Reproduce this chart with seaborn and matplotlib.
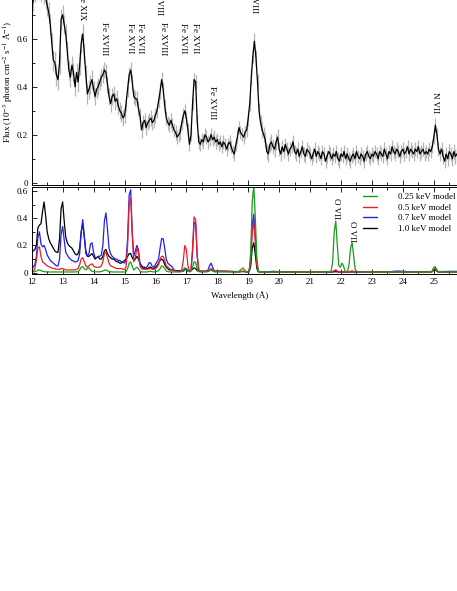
import numpy as np
import pandas as pd
import matplotlib
matplotlib.use("Agg")
import matplotlib.pyplot as plt
import seaborn as sns
from matplotlib.ticker import MultipleLocator, FuncFormatter
from matplotlib.lines import Line2D

# Observed spectrum, 0.05 A bins starting at 12.00 A (flux in 1e-3 photon cm-2 s-1 A-1)
spec_flux = [
    0.73, 0.76, 0.80, 0.82, 0.81, 0.83, 0.80, 0.81, 0.79, 0.77,
    0.74, 0.71, 0.66, 0.58, 0.51, 0.50, 0.45, 0.43, 0.50, 0.68,
    0.70, 0.66, 0.62, 0.55, 0.47, 0.44, 0.49, 0.46, 0.40, 0.46,
    0.42, 0.49, 0.58, 0.62, 0.54, 0.45, 0.37, 0.39, 0.41, 0.43,
    0.39, 0.36, 0.39, 0.40, 0.42, 0.44, 0.45, 0.47, 0.46, 0.41,
    0.36, 0.33, 0.36, 0.37, 0.34, 0.35, 0.32, 0.30, 0.29, 0.27,
    0.28, 0.33, 0.39, 0.45, 0.47, 0.42, 0.36, 0.35, 0.35, 0.31,
    0.28, 0.22, 0.25, 0.26, 0.23, 0.25, 0.26, 0.27, 0.25, 0.26,
    0.28, 0.30, 0.34, 0.38, 0.43, 0.39, 0.32, 0.27, 0.25, 0.24,
    0.26, 0.24, 0.22, 0.21, 0.19, 0.20, 0.21, 0.25, 0.28, 0.30,
    0.27, 0.22, 0.16, 0.20, 0.33, 0.43, 0.42, 0.26, 0.17, 0.16,
    0.18, 0.17, 0.20, 0.19, 0.17, 0.18, 0.20, 0.18, 0.19, 0.17,
    0.18, 0.16, 0.17, 0.15, 0.17, 0.16, 0.14, 0.16, 0.17, 0.15,
    0.13, 0.12, 0.16, 0.19, 0.23, 0.21, 0.20, 0.19, 0.21, 0.22,
    0.27, 0.33, 0.44, 0.53, 0.59, 0.52, 0.42, 0.30, 0.25, 0.22,
    0.20, 0.18, 0.13, 0.12, 0.16, 0.17, 0.15, 0.14, 0.17, 0.19,
    0.14, 0.12, 0.15, 0.13, 0.16, 0.14, 0.12, 0.14, 0.15, 0.17,
    0.13, 0.12, 0.14, 0.11, 0.13, 0.15, 0.12, 0.11, 0.14, 0.13,
    0.12, 0.10, 0.12, 0.14, 0.11, 0.13, 0.12, 0.10, 0.13, 0.12,
    0.09, 0.11, 0.13, 0.12, 0.10, 0.12, 0.11, 0.13, 0.10, 0.09,
    0.12, 0.11, 0.13, 0.10, 0.12, 0.10, 0.09, 0.11, 0.12, 0.10,
    0.13, 0.11, 0.10, 0.12, 0.11, 0.09, 0.12, 0.13, 0.11, 0.10,
    0.12, 0.11, 0.13, 0.12, 0.10, 0.13, 0.12, 0.11, 0.14, 0.12,
    0.10, 0.13, 0.12, 0.15, 0.13, 0.12, 0.14, 0.13, 0.11, 0.13,
    0.14, 0.12, 0.13, 0.15, 0.12, 0.14, 0.13, 0.12, 0.14, 0.13,
    0.15, 0.12, 0.13, 0.14, 0.12, 0.13, 0.12, 0.14, 0.13, 0.15,
    0.19, 0.24, 0.20, 0.14, 0.12, 0.14, 0.11, 0.09, 0.12, 0.10,
    0.13, 0.12, 0.10, 0.13, 0.11, 0.12, 0.13, 0.10, 0.12, 0.11,
    0.13, 0.12, 0.10, 0.12, 0.11, 0.13, 0.12,
]
# typical 1-sigma error per whole angstrom (12, 13, ..., 26)
err_levels = [0.045, 0.04, 0.035, 0.032, 0.03, 0.028, 0.028, 0.032,
              0.028, 0.028, 0.028, 0.028, 0.028, 0.03, 0.03]

# Model spectra: 0.05 A grid from 12.00 to 18.00, then a sparser list of wavelengths
model_ext_wave = [18.2, 18.4, 18.6, 18.7, 18.78, 18.83, 18.88, 18.95, 19.03, 19.08,
                  19.13, 19.18, 19.23, 19.28, 19.33, 19.4, 19.6, 19.8, 20.0, 20.5,
                  21.0, 21.5, 21.68, 21.73, 21.78, 21.83, 21.88, 21.93, 21.98, 22.03,
                  22.08, 22.13, 22.21, 22.26, 22.31, 22.36, 22.41, 22.46, 22.55, 22.8,
                  23.2, 23.6, 23.8, 23.9, 24.2, 24.6, 24.88, 24.94, 24.99, 25.04,
                  25.09, 25.14, 25.25, 25.6, 26.0, 26.4]

m025_main = [
    0.005, 0.005, 0.008, 0.012, 0.018, 0.02, 0.015, 0.01, 0.008, 0.006,
    0.005, 0.005, 0.005, 0.005, 0.005, 0.005, 0.005, 0.005, 0.005, 0.005,
    0.005, 0.005, 0.005, 0.005, 0.005, 0.005, 0.005, 0.005, 0.005, 0.006,
    0.008, 0.02, 0.04, 0.045, 0.03, 0.02, 0.03, 0.035, 0.02, 0.01,
    0.008, 0.006, 0.006, 0.006, 0.006, 0.008, 0.012, 0.018, 0.02, 0.014,
    0.008, 0.006, 0.005, 0.005, 0.005, 0.005, 0.005, 0.005, 0.005, 0.005,
    0.005, 0.008, 0.03, 0.07, 0.08, 0.045, 0.02, 0.03, 0.04, 0.03,
    0.012, 0.006, 0.005, 0.005, 0.005, 0.006, 0.01, 0.01, 0.006, 0.006,
    0.008, 0.01, 0.015, 0.03, 0.05, 0.045, 0.03, 0.012, 0.008, 0.006,
    0.005, 0.005, 0.005, 0.005, 0.005, 0.005, 0.005, 0.008, 0.02, 0.035,
    0.03, 0.012, 0.006, 0.01, 0.04, 0.08, 0.075, 0.03, 0.008, 0.005,
    0.005, 0.005, 0.005, 0.005, 0.008, 0.015, 0.02, 0.012, 0.006, 0.005,
    0.005,
]
m025_ext = [0.005, 0.005, 0.005, 0.01, 0.025, 0.035, 0.02, 0.005, 0.01, 0.15,
            0.52, 0.64, 0.40, 0.10, 0.01, 0.005, 0.005, 0.005, 0.005, 0.005,
            0.005, 0.005, 0.01, 0.08, 0.30, 0.38, 0.20, 0.05, 0.04, 0.07,
            0.05, 0.01, 0.01, 0.06, 0.18, 0.22, 0.12, 0.02, 0.005, 0.005,
            0.005, 0.005, 0.005, 0.005, 0.005, 0.005, 0.005, 0.01, 0.035, 0.045,
            0.025, 0.008, 0.005, 0.005, 0.005, 0.005]

m05_main = [
    0.01, 0.01, 0.03, 0.09, 0.18, 0.19, 0.12, 0.08, 0.07, 0.06,
    0.05, 0.045, 0.04, 0.035, 0.03, 0.03, 0.025, 0.025, 0.025, 0.03,
    0.03, 0.025, 0.02, 0.02, 0.02, 0.02, 0.02, 0.02, 0.02, 0.025,
    0.03, 0.06, 0.10, 0.11, 0.08, 0.05, 0.04, 0.05, 0.06, 0.065,
    0.05, 0.04, 0.04, 0.04, 0.04, 0.05, 0.08, 0.14, 0.15, 0.11,
    0.07, 0.05, 0.045, 0.04, 0.035, 0.03, 0.03, 0.03, 0.03, 0.025,
    0.025, 0.04, 0.20, 0.50, 0.55, 0.28, 0.08, 0.11, 0.18, 0.15,
    0.05, 0.03, 0.025, 0.025, 0.025, 0.025, 0.03, 0.03, 0.025, 0.025,
    0.03, 0.04, 0.06, 0.10, 0.12, 0.12, 0.09, 0.05, 0.04, 0.03,
    0.025, 0.02, 0.015, 0.01, 0.01, 0.01, 0.01, 0.02, 0.09, 0.20,
    0.17, 0.05, 0.01, 0.02, 0.18, 0.41, 0.39, 0.13, 0.02, 0.01,
    0.01, 0.01, 0.01, 0.01, 0.01, 0.02, 0.03, 0.02, 0.01, 0.01,
    0.01,
]
m05_ext = [0.01, 0.008, 0.006, 0.006, 0.008, 0.01, 0.008, 0.005, 0.008, 0.08,
           0.30, 0.37, 0.22, 0.05, 0.008, 0.005, 0.005, 0.005, 0.005, 0.005,
           0.005, 0.005, 0.005, 0.008, 0.015, 0.02, 0.012, 0.006, 0.005, 0.006,
           0.005, 0.005, 0.005, 0.006, 0.01, 0.012, 0.008, 0.005, 0.005, 0.005,
           0.005, 0.005, 0.006, 0.006, 0.005, 0.005, 0.005, 0.008, 0.02, 0.03,
           0.015, 0.006, 0.005, 0.005, 0.005, 0.005]

m07_main = [
    0.04, 0.04, 0.06, 0.12, 0.26, 0.30, 0.21, 0.19, 0.20, 0.17,
    0.13, 0.11, 0.09, 0.08, 0.07, 0.06, 0.05, 0.05, 0.10, 0.28,
    0.34, 0.24, 0.15, 0.13, 0.11, 0.10, 0.09, 0.085, 0.08, 0.08,
    0.09, 0.14, 0.30, 0.39, 0.27, 0.14, 0.12, 0.14, 0.21, 0.22,
    0.15, 0.11, 0.11, 0.12, 0.12, 0.13, 0.20, 0.38, 0.44, 0.32,
    0.18, 0.14, 0.12, 0.11, 0.10, 0.10, 0.09, 0.09, 0.08, 0.08,
    0.07, 0.09, 0.25, 0.57, 0.61, 0.30, 0.12, 0.16, 0.20, 0.17,
    0.07, 0.04, 0.03, 0.03, 0.04, 0.05, 0.075, 0.07, 0.045, 0.04,
    0.06, 0.08, 0.10, 0.18, 0.25, 0.25, 0.18, 0.10, 0.07, 0.06,
    0.05, 0.04, 0.02, 0.015, 0.01, 0.01, 0.01, 0.01, 0.01, 0.02,
    0.03, 0.01, 0.01, 0.02, 0.15, 0.37, 0.36, 0.12, 0.02, 0.01,
    0.01, 0.01, 0.01, 0.01, 0.02, 0.05, 0.07, 0.04, 0.01, 0.01,
    0.01,
]
m07_ext = [0.01, 0.008, 0.006, 0.006, 0.008, 0.01, 0.008, 0.005, 0.008, 0.09,
           0.35, 0.43, 0.26, 0.06, 0.008, 0.006, 0.006, 0.01, 0.006, 0.005,
           0.005, 0.005, 0.005, 0.007, 0.013, 0.018, 0.01, 0.006, 0.005, 0.005,
           0.005, 0.005, 0.005, 0.006, 0.008, 0.01, 0.007, 0.005, 0.005, 0.005,
           0.006, 0.007, 0.012, 0.011, 0.007, 0.006, 0.006, 0.008, 0.02, 0.03,
           0.015, 0.006, 0.008, 0.01, 0.008, 0.006]

m10_main = [
    0.15, 0.16, 0.17, 0.20, 0.33, 0.35, 0.36, 0.45, 0.52, 0.42,
    0.30, 0.25, 0.22, 0.20, 0.18, 0.16, 0.15, 0.15, 0.25, 0.47,
    0.52, 0.38, 0.26, 0.22, 0.20, 0.19, 0.18, 0.16, 0.14, 0.13,
    0.14, 0.18, 0.30, 0.36, 0.26, 0.16, 0.12, 0.12, 0.13, 0.14,
    0.12, 0.10, 0.11, 0.12, 0.10, 0.10, 0.12, 0.16, 0.17, 0.14,
    0.12, 0.11, 0.10, 0.10, 0.09, 0.08, 0.08, 0.07, 0.07, 0.08,
    0.09, 0.10, 0.12, 0.14, 0.14, 0.11, 0.09, 0.10, 0.12, 0.10,
    0.07, 0.05, 0.04, 0.04, 0.03, 0.03, 0.04, 0.04, 0.03, 0.03,
    0.04, 0.05, 0.07, 0.09, 0.10, 0.09, 0.06, 0.04, 0.03, 0.02,
    0.02, 0.02, 0.015, 0.015, 0.015, 0.015, 0.015, 0.015, 0.02, 0.03,
    0.025, 0.015, 0.015, 0.015, 0.025, 0.035, 0.03, 0.015, 0.01, 0.01,
    0.01, 0.01, 0.01, 0.01, 0.01, 0.015, 0.02, 0.015, 0.01, 0.01,
    0.01,
]
m10_ext = [0.01, 0.01, 0.008, 0.008, 0.008, 0.008, 0.008, 0.006, 0.006, 0.05,
           0.18, 0.22, 0.13, 0.03, 0.006, 0.005, 0.005, 0.005, 0.005, 0.005,
           0.005, 0.005, 0.005, 0.005, 0.006, 0.007, 0.006, 0.005, 0.005, 0.005,
           0.005, 0.005, 0.005, 0.005, 0.005, 0.005, 0.005, 0.005, 0.005, 0.005,
           0.005, 0.005, 0.006, 0.006, 0.005, 0.005, 0.005, 0.006, 0.015, 0.02,
           0.012, 0.006, 0.005, 0.005, 0.005, 0.005]

model_names = ["0.25 keV model", "0.5 keV model", "0.7 keV model", "1.0 keV model"]
model_colors = ["#1c9a1c", "#ee1c24", "#2020f0", "black"]

line_labels = ["Fe XIX", "Fe XVIII", "Fe XVII", "Fe XVII", "O VIII", "Fe XVIII",
               "Fe XVII", "Fe XVII", "Fe XVIII", "O VIII", "N VII"]
line_wave = [13.63, 14.34, 15.19, 15.50, 16.12, 16.25, 16.90, 17.28, 17.83, 19.19, 25.04]
line_y = [0.678, 0.669, 0.665, 0.665, 0.70, 0.669, 0.665, 0.665, 0.403, 0.705, 0.377]
line_va = ["bottom", "top", "top", "top", "bottom", "top", "top", "top", "top", "bottom", "top"]

model_line_labels = ["O VII", "O VII"]
model_line_wave = [21.85, 22.36]
model_line_y = [0.55, 0.38]

# ---- data frames ----
spec_wave = np.round(12.0 + 0.05 * np.arange(len(spec_flux)), 2)
idx = (np.floor(spec_wave + 1e-6) - 12).astype(int)
df_spec = pd.DataFrame({"wave": spec_wave, "flux": spec_flux,
                        "err": np.array(err_levels)[idx]})

main_wave = list(np.round(12.0 + 0.05 * np.arange(len(m025_main)), 2))
model_wave = main_wave + model_ext_wave
models = [m025_main + m025_ext, m05_main + m05_ext, m07_main + m07_ext, m10_main + m10_ext]
for m in models:
    assert len(m) == len(model_wave), (len(m), len(model_wave))
df_model = pd.concat([pd.DataFrame({"wave": model_wave, "flux": m, "model": n})
                      for m, n in zip(models, model_names)])

# ---- style ----
sns.set_theme(style="ticks")
plt.rcParams["font.family"] = ["Liberation Serif", "DejaVu Serif"]
plt.rcParams["mathtext.fontset"] = "stix"
plt.rcParams["axes.edgecolor"] = "black"
plt.rcParams["axes.linewidth"] = 0.7
plt.rcParams["xtick.color"] = "black"
plt.rcParams["ytick.color"] = "black"
plt.rcParams["text.color"] = "black"
plt.rcParams["axes.labelcolor"] = "black"
fs = 6.5

fig = plt.figure(figsize=(4.57, 5.91), dpi=100)
ax1 = fig.add_axes([0.0694, 0.6875, 0.9746, 0.348])
ax2 = fig.add_axes([0.0694, 0.5359, 0.9746, 0.1472])

# top panel: observed spectrum
ax1.vlines(df_spec["wave"], df_spec["flux"] - df_spec["err"], df_spec["flux"] + df_spec["err"],
           color="#b4b4b4", lw=0.9, zorder=1)
sns.lineplot(data=df_spec, x="wave", y="flux", ax=ax1, color="black", lw=0.9,
             estimator=None, zorder=2)
for lab, w, y, va in zip(line_labels, line_wave, line_y, line_va):
    ax1.text(w, y, lab, rotation=-90, ha="center", va=va, fontsize=fs)

# bottom panel: models (drawn black first, green last)
for name in model_names[::-1]:
    c = model_colors[model_names.index(name)]
    sns.lineplot(data=df_model[df_model["model"] == name], x="wave", y="flux",
                 ax=ax2, color=c, lw=0.9, estimator=None, sort=False)
for lab, w, y in zip(model_line_labels, model_line_wave, model_line_y):
    ax2.text(w, y, lab, rotation=-90, ha="center", va="top", fontsize=fs)

handles = [Line2D([], [], color=c, lw=1.0) for c in model_colors]
fig.legend(handles, model_names, loc="upper left", bbox_to_anchor=(363 / 457, 1 - 193 / 591),
           frameon=False, fontsize=fs, handlelength=1.6, handletextpad=2.3,
           labelspacing=0.25, borderpad=0, borderaxespad=0)

fmt = FuncFormatter(lambda v, p: f"{v:g}")
for ax in (ax1, ax2):
    ax.set_xlim(12, 26.4)
    ax.xaxis.set_major_locator(MultipleLocator(1))
    ax.xaxis.set_minor_locator(MultipleLocator(0.5))
    ax.yaxis.set_major_locator(MultipleLocator(0.2))
    ax.yaxis.set_minor_locator(MultipleLocator(0.1))
    ax.yaxis.set_major_formatter(fmt)
    ax.tick_params(which="both", direction="in", top=True, right=True,
                   labelsize=fs, width=0.6, pad=2.5)
    ax.tick_params(which="major", length=3.5)
    ax.tick_params(which="minor", length=2)
    for s in ax.spines.values():
        s.set_linewidth(0.7)

ax1.set_ylim(-0.008, 0.849)
ax1.tick_params(labelbottom=False)
ax1.set_xlabel("")
ax1.set_ylabel(r"Flux (10$^{-3}$ photon cm$^{-2}$ s$^{-1}$ Å$^{-1}$)", fontsize=fs, labelpad=0.5)

ax2.set_ylim(-0.012, 0.628)
ax2.set_ylabel("")
ax2.set_xlabel("Wavelength (Å)", fontsize=fs)
ax2.xaxis.set_label_coords(0.468, -0.2)

fig.savefig("out.png", dpi=100, facecolor="white")
